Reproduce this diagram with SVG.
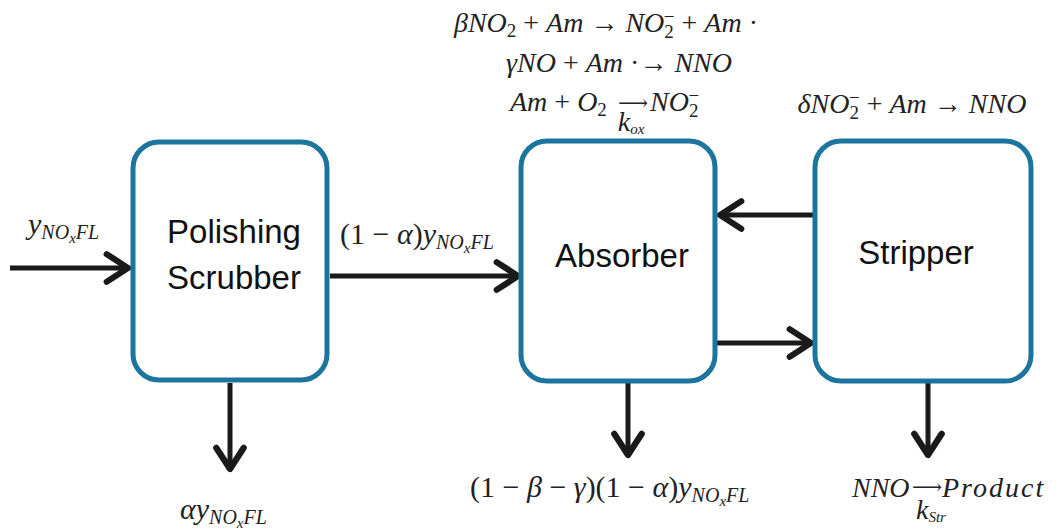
<svg xmlns="http://www.w3.org/2000/svg" width="1059" height="531" viewBox="0 0 1059 531">
<defs>
<style>
.box{fill:#ffffff;stroke:#1b759c;stroke-width:5}
.lbl{font-family:"Liberation Sans",Arial,sans-serif;font-size:33px;fill:#111;text-anchor:middle}
.m{font-family:"Liberation Serif","DejaVu Serif",serif;font-style:italic;font-size:28px;fill:#222}
.f{font-size:30px}
.n{font-style:normal}
.c{text-anchor:middle}
.s{font-size:19px}
.sb{font-size:20px}
.ss{font-size:15px}
.ar{font-size:21px;font-style:normal}
.con{stroke:#1a1a1a;stroke-width:5;fill:none;marker-end:url(#ah)}
</style>
<marker id="ah" markerUnits="userSpaceOnUse" markerWidth="40" markerHeight="40" refX="0" refY="0" viewBox="-22 -16 26 32" orient="auto" overflow="visible">
<path d="M-17,-11 L0,0 L-17,11" fill="none" stroke="#1a1a1a" stroke-width="5" stroke-linecap="round" stroke-linejoin="round"/>
</marker>
</defs>
<rect width="1059" height="531" fill="#ffffff"/>

<g id="connectors">
<line class="con" x1="10" y1="268" x2="128" y2="268"/>
<line class="con" x1="330" y1="276" x2="518" y2="276"/>
<line class="con" x1="813" y1="215" x2="720" y2="215"/>
<line class="con" x1="717" y1="343" x2="811" y2="343"/>
<line class="con" x1="230" y1="383" x2="230" y2="469"/>
<line class="con" x1="628" y1="383" x2="628" y2="455"/>
<line class="con" x1="928" y1="383" x2="928" y2="455"/>
</g>

<g id="scrubber">
<rect class="box" x="133" y="142" width="194" height="238" rx="26"/>
<text class="lbl" x="234" y="243">Polishing</text>
<text class="lbl" x="234" y="289">Scrubber</text>
</g>

<g id="absorber">
<rect class="box" x="521" y="141" width="194" height="240" rx="26"/>
<text class="lbl" x="622" y="267">Absorber</text>
</g>

<g id="stripper">
<rect class="box" x="815" y="141" width="216" height="240" rx="26"/>
<text class="lbl" x="916" y="264">Stripper</text>
</g>

<g id="labels">
<text class="m c" x="606" y="32">βNO<tspan class="n s" dy="5">2</tspan><tspan class="n" dy="-5"> + </tspan>Am<tspan class="n"> → </tspan>NO<tspan class="n s" dy="6">2</tspan><tspan class="n s" dx="-10" dy="-15">−</tspan><tspan class="n" dy="9"> + </tspan>Am<tspan class="n"> ·</tspan></text>
<text class="m c" x="619" y="72">γNO<tspan class="n"> + </tspan>Am<tspan class="n"> ·→ </tspan>NNO</text>
<text class="m" x="510" y="111">Am<tspan class="n"> + </tspan>O<tspan class="n s" dy="5">2</tspan></text>
<text class="m ar" x="618" y="110">⟶</text>
<text class="m c" x="631" y="131" font-size="20">k<tspan class="ss" dy="3">ox</tspan></text>
<text class="m" x="650" y="111">NO<tspan class="n s" dy="6">2</tspan><tspan class="n s" dx="-10" dy="-15">−</tspan></text>
<text class="m c" x="912" y="113">δNO<tspan class="n s" dy="6">2</tspan><tspan class="n s" dx="-10" dy="-15">−</tspan><tspan class="n" dy="9"> + </tspan>Am<tspan class="n"> → </tspan>NNO</text>

<text class="m f" x="28" y="234">y<tspan class="sb" dy="5">NO</tspan><tspan class="ss" dy="4">x</tspan><tspan class="sb" dy="-4">FL</tspan></text>
<text class="m f" x="340" y="244"><tspan class="n">(1 − </tspan>α<tspan class="n">)</tspan>y<tspan class="sb" dy="5">NO</tspan><tspan class="ss" dy="4">x</tspan><tspan class="sb" dy="-4">FL</tspan></text>
<text class="m f" x="180" y="519">αy<tspan class="sb" dy="5">NO</tspan><tspan class="ss" dy="4">x</tspan><tspan class="sb" dy="-4">FL</tspan></text>
<text class="m f" x="470" y="497"><tspan class="n">(1 − </tspan>β<tspan class="n"> − </tspan>γ<tspan class="n">)(1 − </tspan>α<tspan class="n">)</tspan>y<tspan class="sb" dy="5">NO</tspan><tspan class="ss" dy="4">x</tspan><tspan class="sb" dy="-4">FL</tspan></text>
<text class="m" x="852" y="497">NNO</text>
<text class="m ar" x="912" y="494">⟶</text>
<text class="m" x="942" y="497" letter-spacing="2">Product</text>
<text class="m c" x="931" y="519" font-size="20">k<tspan class="ss" dy="3">Str</tspan></text>
</g>
</svg>
